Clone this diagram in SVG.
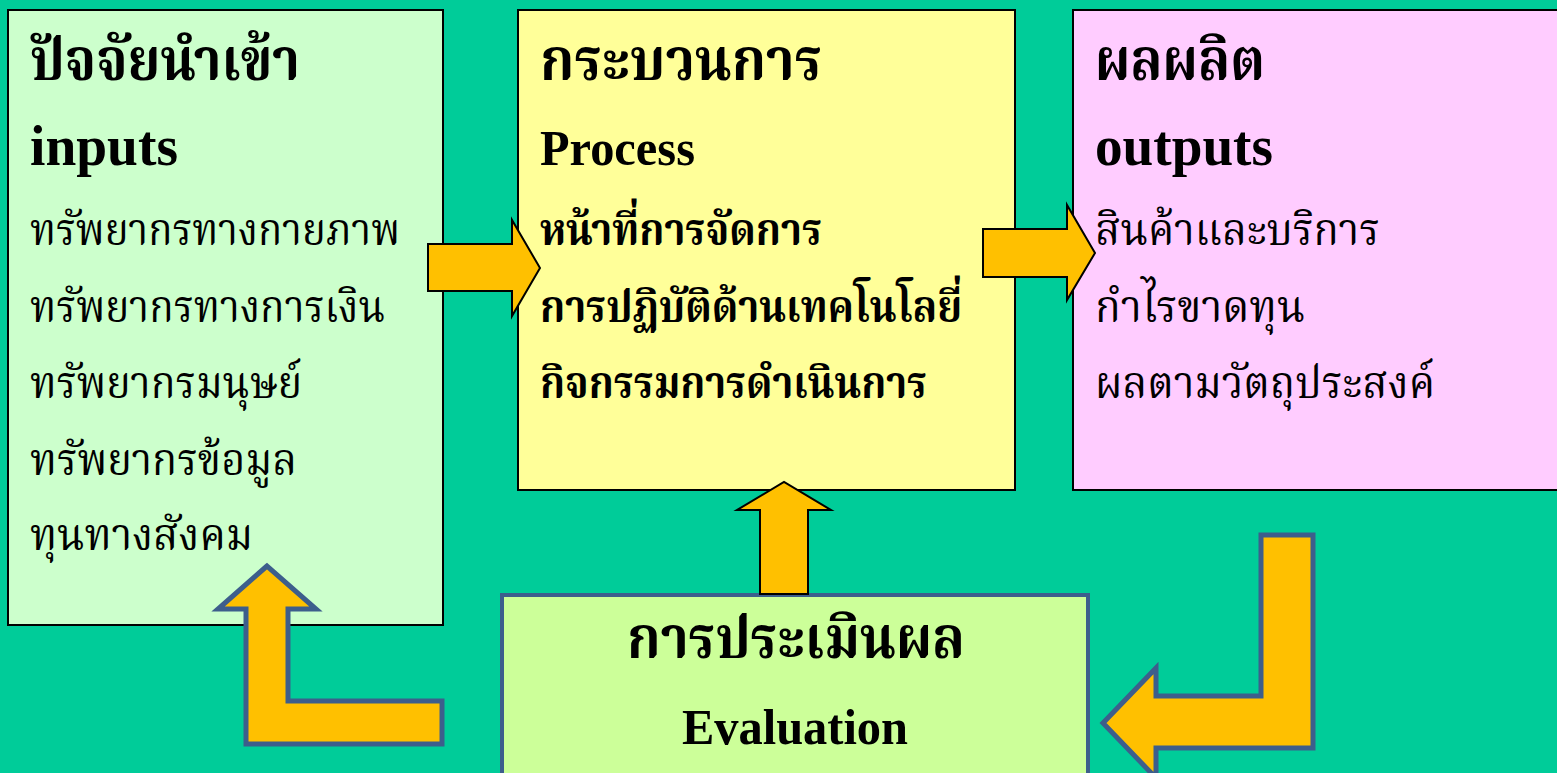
<svg xmlns="http://www.w3.org/2000/svg" width="1557" height="773" viewBox="0 0 1557 773">
<style>
.box{stroke:#000;stroke-width:2}
.t{font-family:"Liberation Serif","Noto Serif Thai","Noto Sans Thai",serif;fill:#000}
.b{font-weight:bold}
.th{font-size:44px}
.tt{font-size:58px}
.en{font-size:50px}
.en2{font-size:58px}
.arr{fill:#FFC000;stroke:#000;stroke-width:2;stroke-linejoin:miter}
.larr{fill:#FFC000;stroke:#3D5E8C;stroke-width:5;stroke-linejoin:miter}
</style>
<rect x="0" y="0" width="1557" height="773" fill="#00CC99"/>
<g id="inputs">
<rect class="box" x="8" y="10" width="435" height="615" fill="#CCFFCC"/>
<text class="t b tt" x="30" y="80" textLength="270" lengthAdjust="spacingAndGlyphs">ปัจจัยนำเข้า</text>
<text class="t b en2" x="30" y="165" textLength="148" lengthAdjust="spacingAndGlyphs">inputs</text>
<text class="t th" x="30" y="245" textLength="370" lengthAdjust="spacingAndGlyphs">ทรัพยากรทางกายภาพ</text>
<text class="t th" x="30" y="322" textLength="355" lengthAdjust="spacingAndGlyphs">ทรัพยากรทางการเงิน</text>
<text class="t th" x="30" y="398" textLength="272" lengthAdjust="spacingAndGlyphs">ทรัพยากรมนุษย์</text>
<text class="t th" x="30" y="475" textLength="267" lengthAdjust="spacingAndGlyphs">ทรัพยากรข้อมูล</text>
<text class="t th" x="30" y="550" textLength="223" lengthAdjust="spacingAndGlyphs">ทุนทางสังคม</text>
</g>
<g id="process">
<rect class="box" x="518" y="10" width="497" height="480" fill="#FFFF99"/>
<text class="t b tt" x="540" y="80" textLength="282" lengthAdjust="spacingAndGlyphs">กระบวนการ</text>
<text class="t b en" x="540" y="165" textLength="155" lengthAdjust="spacingAndGlyphs">Process</text>
<text class="t b th" x="540" y="245" textLength="282" lengthAdjust="spacingAndGlyphs">หน้าที่การจัดการ</text>
<text class="t b th" x="540" y="322" textLength="422" lengthAdjust="spacingAndGlyphs">การปฏิบัติด้านเทคโนโลยี่</text>
<text class="t b th" x="540" y="398" textLength="387" lengthAdjust="spacingAndGlyphs">กิจกรรมการดำเนินการ</text>
</g>
<g id="outputs">
<rect class="box" x="1073" y="10" width="490" height="480" fill="#FFCCFF"/>
<text class="t b tt" x="1095" y="80" textLength="170" lengthAdjust="spacingAndGlyphs">ผลผลิต</text>
<text class="t b en2" x="1095" y="165" textLength="178" lengthAdjust="spacingAndGlyphs">outputs</text>
<text class="t th" x="1095" y="245" textLength="285" lengthAdjust="spacingAndGlyphs">สินค้าและบริการ</text>
<text class="t th" x="1095" y="322" textLength="210" lengthAdjust="spacingAndGlyphs">กำไรขาดทุน</text>
<text class="t th" x="1095" y="398" textLength="340" lengthAdjust="spacingAndGlyphs">ผลตามวัตถุประสงค์</text>
</g>
<g id="evaluation">
<rect x="502" y="595" width="586" height="190" fill="#CCFF99" stroke="#3D5E8C" stroke-width="4"/>
<text class="t b tt" x="627" y="658" textLength="338" lengthAdjust="spacingAndGlyphs">การประเมินผล</text>
<text class="t b en" x="682" y="744" textLength="226" lengthAdjust="spacingAndGlyphs">Evaluation</text>
</g>
<g id="connectors">
<polygon class="arr" points="428,244 512,244 512,220 540,268 512,316 512,291 428,291"/>
<polygon class="arr" points="983,229 1067,229 1067,205 1095,253 1067,300 1067,277 983,277"/>
<polygon class="arr" points="760,594 760,510 737,510 784,482 831,510 808,510 808,594"/>
<polygon class="larr" points="267,566 218,609 246,609 246,744 442,744 442,701 288,701 288,609 316,609"/>
<polygon class="larr" points="1313,535 1261,535 1261,696 1156,696 1156,668 1103,723 1156,778 1156,748 1313,748"/>
</g>
</svg>
